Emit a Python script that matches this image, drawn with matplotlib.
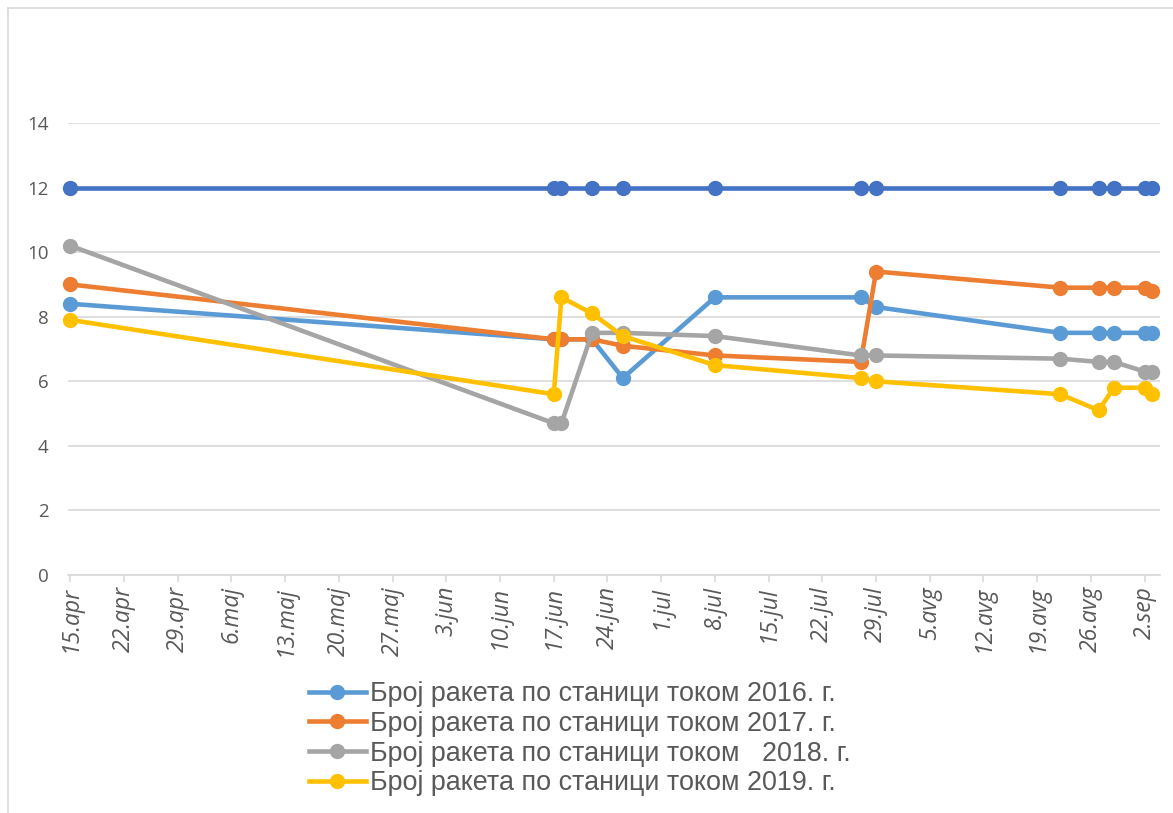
import matplotlib
matplotlib.use("Agg")
import matplotlib.pyplot as plt
from matplotlib.lines import Line2D
import datetime as dt

# ---- data ----
point_dates = ["04-15", "06-17", "06-18", "06-22", "06-26", "07-08", "07-27",
               "07-29", "08-22", "08-27", "08-29", "09-02", "09-03"]
max_line = [12, 12, 12, 12, 12, 12, 12, 12, 12, 12, 12, 12, 12]
s2016 = [8.4, 7.3, 7.3, 7.3, 6.1, 8.6, 8.6, 8.3, 7.5, 7.5, 7.5, 7.5, 7.5]
s2017 = [9.0, 7.3, 7.3, 7.3, 7.1, 6.8, 6.6, 9.4, 8.9, 8.9, 8.9, 8.9, 8.8]
s2018 = [10.2, 4.7, 4.7, 7.5, 7.5, 7.4, 6.8, 6.8, 6.7, 6.6, 6.6, 6.3, 6.3]
s2019 = [7.9, 5.6, 8.6, 8.1, 7.4, 6.5, 6.1, 6.0, 5.6, 5.1, 5.8, 5.8, 5.6]
labels = ["Број ракета по станици током 2016. г.",
          "Број ракета по станици током 2017. г.",
          "Број ракета по станици током   2018. г.",
          "Број ракета по станици током 2019. г."]
tick_labels = ["15.apr", "22.apr", "29.apr", "6.maj", "13.maj", "20.maj", "27.maj",
               "3.jun", "10.jun", "17.jun", "24.jun", "1.jul", "8.jul", "15.jul",
               "22.jul", "29.jul", "5.avg", "12.avg", "19.avg", "26.avg", "2.sep"]
y_ticks = [0, 2, 4, 6, 8, 10, 12, 14]

colors = ["#5B9BD5", "#ED7D31", "#A5A5A5", "#FFC000"]
max_color = "#4472C4"

YEAR = 2019
x = [dt.datetime.strptime(f"{YEAR}-{d}", "%Y-%m-%d") for d in point_dates]
start = dt.datetime(YEAR, 4, 15)
tick_pos = [start + dt.timedelta(days=7 * i) for i in range(len(tick_labels))]

W, H = 1173, 813
fig = plt.figure(figsize=(W / 100, H / 100), dpi=100)
fig.patch.set_facecolor("white")

# outer frame (top & left visible)
fig.add_artist(Line2D([8 / W, 1], [1 - 8 / H, 1 - 8 / H], color="#D9D9D9", lw=1.2))
fig.add_artist(Line2D([8 / W, 8 / W], [0, 1 - 8 / H], color="#D9D9D9", lw=1.2))

left, right = 68 / W, 1160 / W
bottom, top = 1 - 575 / H, 1 - 123 / H
ax = fig.add_axes([left, bottom, right - left, top - bottom])

lw = 3.3
ms = 10
ax.plot(x, max_line, color=max_color, lw=lw, marker="o", ms=ms, clip_on=False,
        label="_nolegend_", zorder=3)
for ser, c, lab in zip([s2016, s2017, s2018, s2019], colors, labels):
    ax.plot(x, ser, color=c, lw=lw, marker="o", ms=ms, clip_on=False,
            label=lab, zorder=3, solid_joinstyle="round")

ax.set_xlim(start - dt.timedelta(days=0.3), dt.datetime(YEAR, 9, 4))
ax.set_ylim(0, 14)
ax.set_yticks(y_ticks)
ax.set_yticklabels([str(v) for v in y_ticks], fontsize=13.5, color="#595959",
                   family=["Open Sans", "DejaVu Sans"])
ax.tick_params(axis="y", length=0, pad=14)
ax.yaxis.grid(True, color="#D9D9D9", lw=1.2)
ax.set_axisbelow(True)

ax.set_xticks(tick_pos)
ax.set_xticklabels(tick_labels, rotation=90, fontsize=16.5, color="#595959",
                   style="italic", family=["Open Sans", "DejaVu Sans"],
                   ha="center", va="top")
ax.tick_params(axis="x", length=5, color="#D9D9D9", width=1.2, pad=3)

for s in ["top", "right", "left"]:
    ax.spines[s].set_visible(False)
ax.spines["bottom"].set_color("#D9D9D9")
ax.spines["bottom"].set_linewidth(1.2)

leg = fig.legend(loc="upper left", bbox_to_anchor=(309 / W, 1 - 681 / H),
                 frameon=False,
                 prop={"family": ["Liberation Sans", "DejaVu Sans"], "size": 19.4},
                 handlelength=2.1, handletextpad=0.15, labelspacing=0.14,
                 borderpad=0, borderaxespad=0)
for t in leg.get_texts():
    t.set_color("#595959")

fig.savefig("out.png", dpi=100, facecolor="white")
